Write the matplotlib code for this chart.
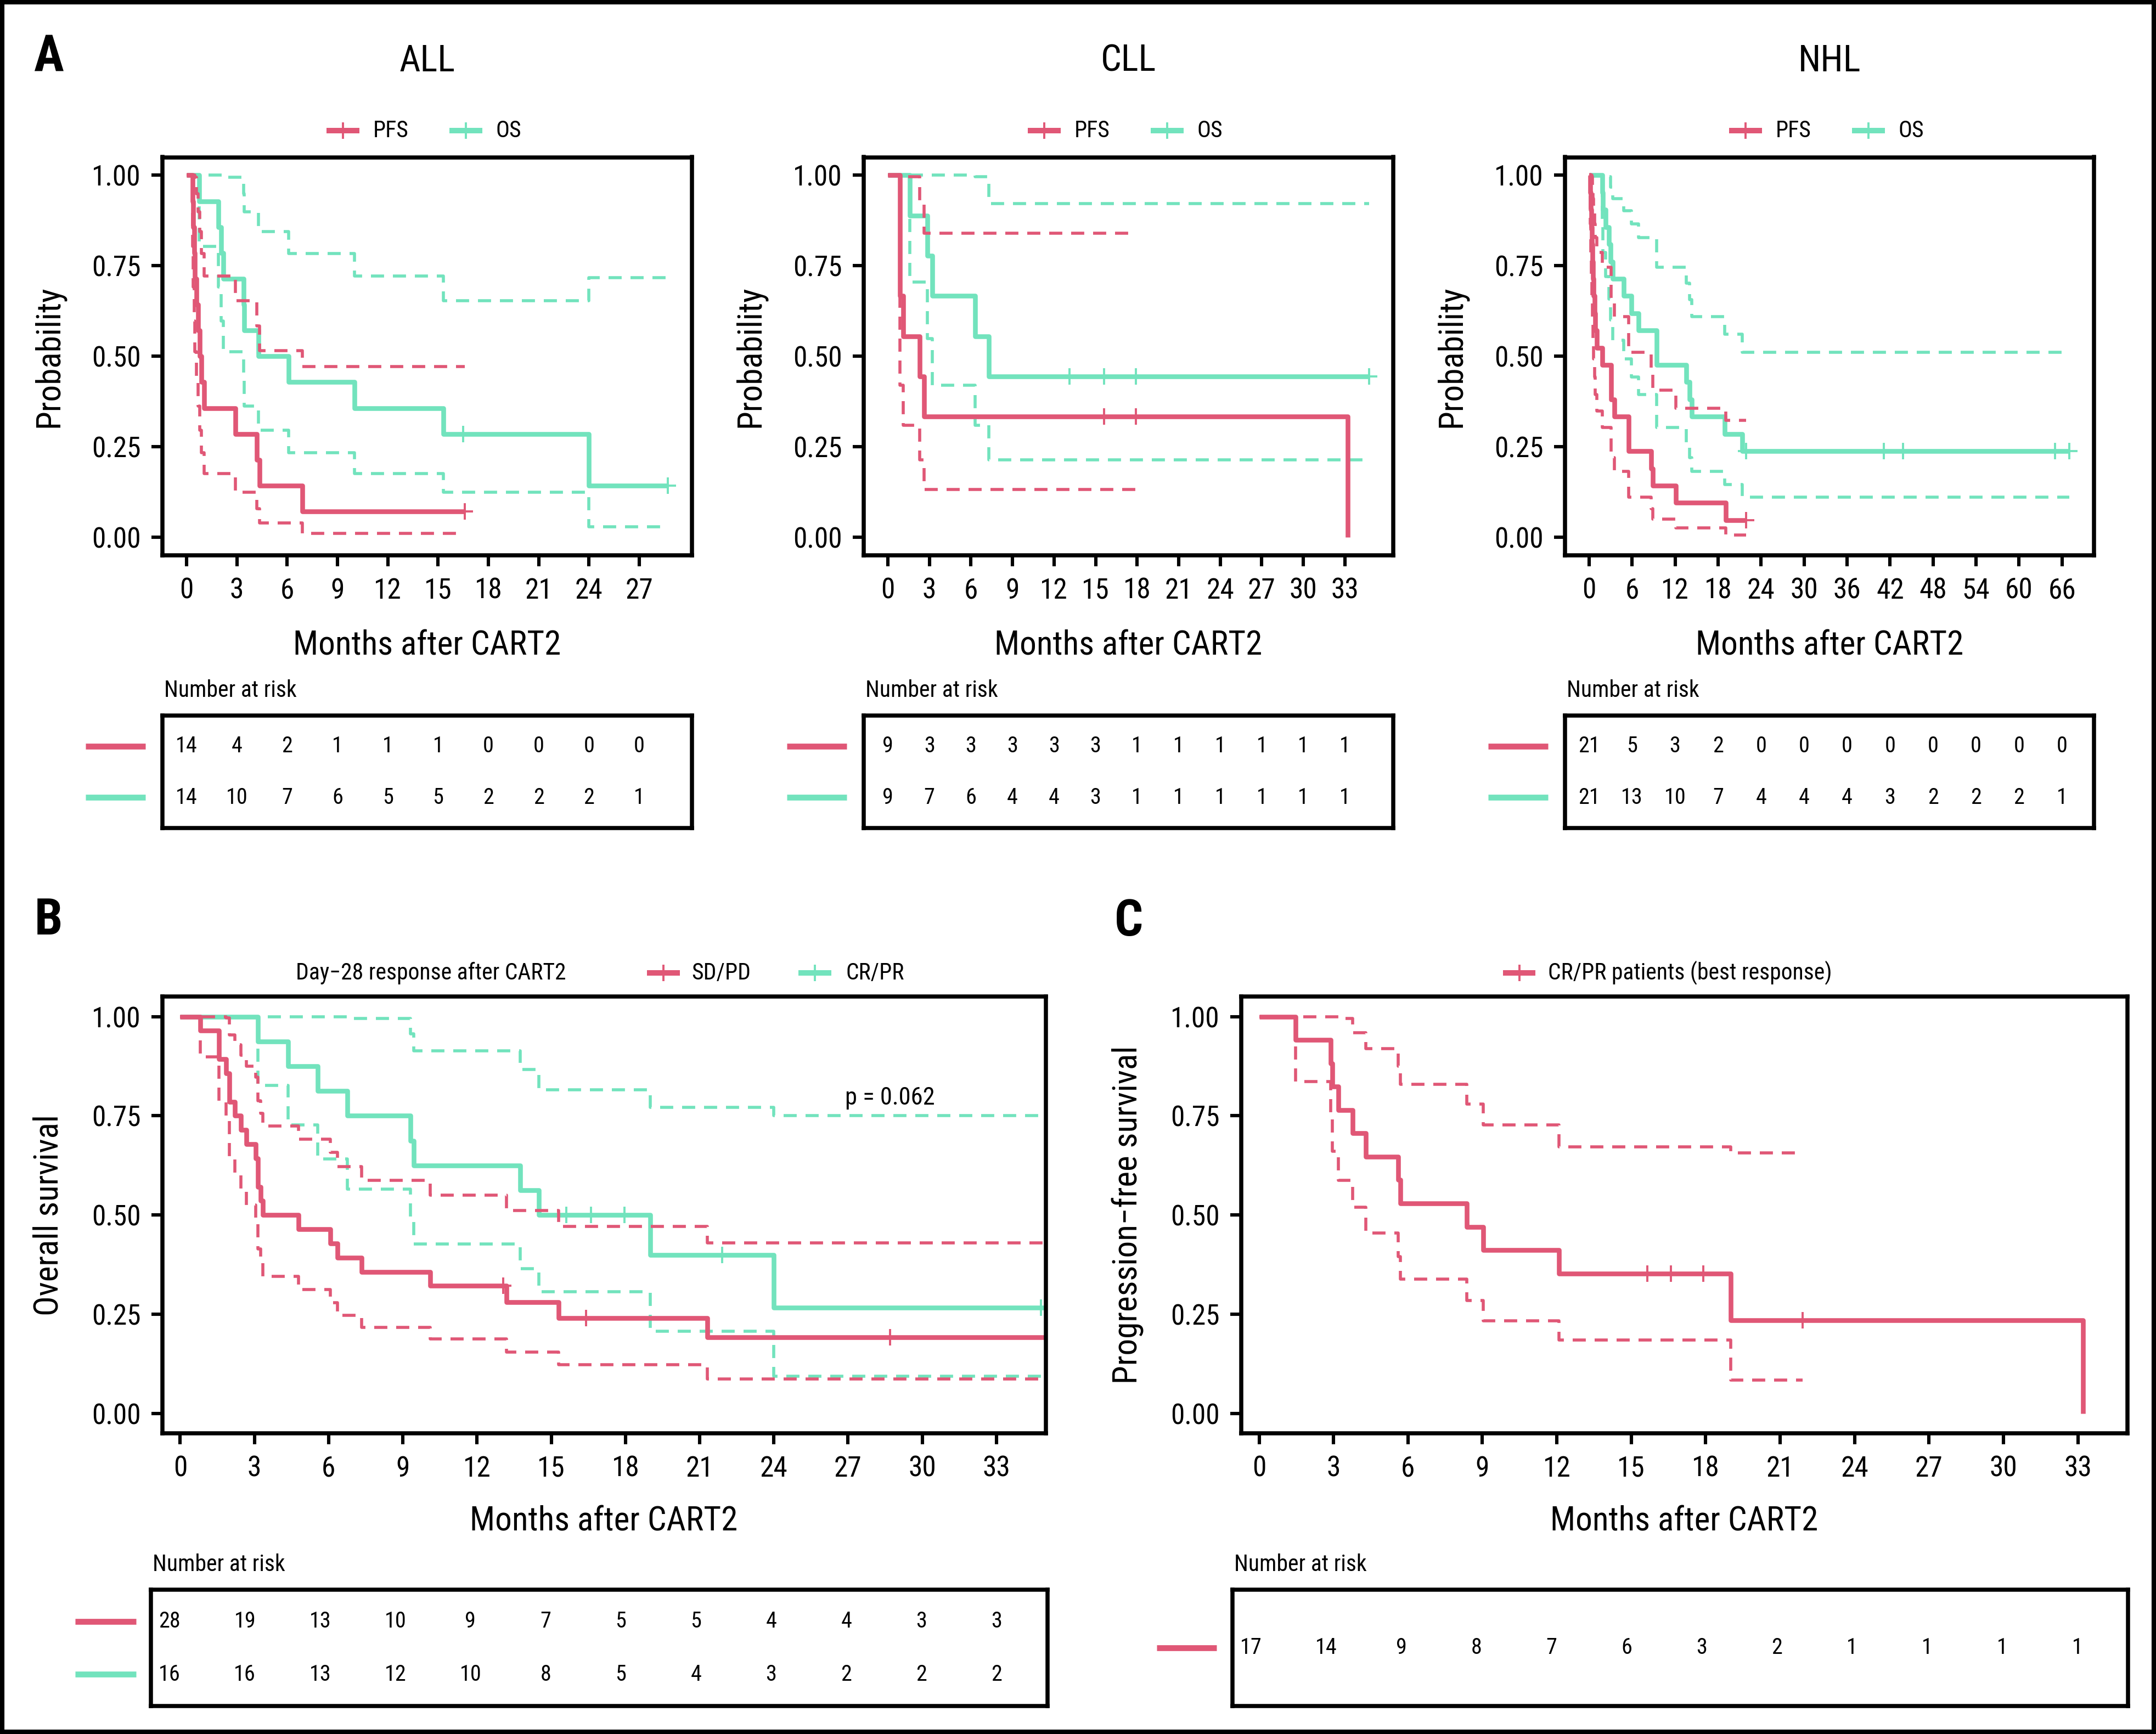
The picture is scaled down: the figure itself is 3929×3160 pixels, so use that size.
import numpy as np
import matplotlib

matplotlib.use("Agg")
import matplotlib.pyplot as plt
from matplotlib import font_manager
from matplotlib.lines import Line2D
from matplotlib.patches import Rectangle

W, H, DPI = 3929, 3160, 200
RED = "#E05776"
GREEN = "#72E3BD"

# ---- survival data (months after CART2) ----
all_pfs_events = [0.35, 0.4, 0.45, 0.5, 0.6, 0.7, 0.8, 0.9, 1.05, 2.9, 4.2, 4.35, 6.9]
all_pfs_censored = [16.6]
all_os_events = [0.77, 1.9, 2.05, 2.2, 3.4, 3.45, 4.3, 6.1, 10.0, 15.3, 24.0]
all_os_censored = [16.5, 16.5, 28.7]

cll_pfs_events = [0.88, 0.88, 0.88, 1.1, 2.3, 2.6, 33.2]
cll_pfs_censored = [15.6, 17.9]
cll_os_events = [1.6, 2.85, 3.2, 6.3, 7.3]
cll_os_censored = [13.1, 15.6, 17.9, 34.75]

nhl_pfs_events = [0.2, 0.25, 0.3, 0.4, 0.5, 0.55, 0.65, 0.75, 0.85, 1.1,
                  1.86, 3.1, 3.1, 3.56, 5.5, 5.5, 8.7, 8.9, 12.1, 19.1]
nhl_pfs_censored = [21.9]
nhl_os_events = [1.86, 1.95, 2.3, 2.8, 3.0, 3.3, 4.8, 5.9, 6.9, 9.4, 9.4,
                 13.6, 14.0, 14.3, 18.9, 21.4]
nhl_os_censored = [21.9, 41.1, 43.8, 65.0, 67.0]

sdpd_events = [0.82, 1.56, 1.56, 1.86, 1.98, 1.98, 2.2, 2.45, 2.68, 3.05, 3.15,
               3.15, 3.25, 3.35, 4.78, 6.06, 6.36, 7.34, 10.1, 13.2, 15.3, 21.3]
sdpd_censored = [13.05, 16.4, 28.7, 36.0, 37.5, 40.0]
crpr_events = [3.15, 4.36, 5.55, 6.76, 9.3, 9.45, 13.75, 14.5, 19.0, 24.0]
crpr_censored = [15.6, 16.6, 17.95, 21.9, 34.8, 36.5]

best_events = [1.47, 2.89, 2.95, 3.2, 3.77, 4.29, 5.6, 5.7, 8.36, 9.04, 12.09, 19.0, 33.2]
best_censored = [15.64, 16.6, 17.9, 21.9]

# ---- number at risk tables ----
all_breaks = list(range(0, 28, 3))
all_pfs_risk = [14, 4, 2, 1, 1, 1, 0, 0, 0, 0]
all_os_risk = [14, 10, 7, 6, 5, 5, 2, 2, 2, 1]
cll_breaks = list(range(0, 34, 3))
cll_pfs_risk = [9, 3, 3, 3, 3, 3, 1, 1, 1, 1, 1, 1]
cll_os_risk = [9, 7, 6, 4, 4, 3, 1, 1, 1, 1, 1, 1]
nhl_breaks = list(range(0, 67, 6))
nhl_pfs_risk = [21, 5, 3, 2, 0, 0, 0, 0, 0, 0, 0, 0]
nhl_os_risk = [21, 13, 10, 7, 4, 4, 4, 3, 2, 2, 2, 1]
bc_breaks = list(range(0, 34, 3))
sdpd_risk = [28, 19, 13, 10, 9, 7, 5, 5, 4, 4, 3, 3]
crpr_risk = [16, 16, 13, 12, 10, 8, 5, 4, 3, 2, 2, 2]
best_risk = [17, 14, 9, 8, 7, 6, 3, 2, 1, 1, 1, 1]

_avail = {f.name for f in font_manager.fontManager.ttflist}
FONT = next((f for f in ["Liberation Sans Narrow", "Roboto Condensed", "Open Sans Condensed",
                         "DejaVu Sans Condensed", "Liberation Sans"] if f in _avail), "DejaVu Sans")
plt.rcParams["font.family"] = [FONT, "DejaVu Sans"]

LW_SOLID, LW_CI, LW_BOX = 3.1, 2.0, 2.7
DASH = (0, (4.3, 2.9))


def km(events, censored):
    """Kaplan-Meier with log-transformed 95% CI (survival::survfit default)."""
    ev = np.asarray(events, float)
    ce = np.asarray(censored, float)
    n = len(ev) + len(ce)
    s, v = 1.0, 0.0
    t_out, s_out, lo_out, hi_out, cens = [0.0], [1.0], [1.0], [1.0], []
    for t in np.unique(np.concatenate([ev, ce])):
        d = int(np.sum(ev == t))
        c = int(np.sum(ce == t))
        if d:
            v = v + d / (n * (n - d)) if n > d else np.inf
            s *= 1 - d / n
        if s > 0:
            se = np.sqrt(v)
            lo, hi = s * np.exp(-1.96 * se), min(1.0, s * np.exp(1.96 * se))
        else:
            lo = hi = np.nan
        t_out.append(t); s_out.append(s); lo_out.append(lo); hi_out.append(hi)
        if c:
            cens.append((t, s))
        n -= d + c
    return np.array(t_out), np.array(s_out), np.array(lo_out), np.array(hi_out), cens


def draw_km(ax, events, censored, color):
    t, s, lo, hi, cens = km(events, censored)
    ok = ~np.isnan(lo)
    for band in (lo, hi):
        ax.step(t[ok], band[ok], where="post", color=color, lw=LW_CI, ls=DASH)
    ax.step(t, s, where="post", color=color, lw=LW_SOLID, solid_capstyle="butt")
    if cens:
        ct, cs = zip(*cens)
        ax.plot(ct, cs, ls="none", marker="+", ms=11, mew=1.4, color=color)


fig = plt.figure(figsize=(W / DPI, H / DPI), dpi=DPI)
fig.patch.set_facecolor("white")


def px_axes(x0, y0, x1, y1):
    return fig.add_axes([x0 / W, 1 - y1 / H, (x1 - x0) / W, (y1 - y0) / H])


def ftext(x, y, s, **kw):
    fig.text(x / W, 1 - y / H, s, **kw)


def style_box(ax):
    for sp in ax.spines.values():
        sp.set_linewidth(LW_BOX)
        sp.set_color("black")


def style_plot(ax, xlim, xticks):
    style_box(ax)
    ax.set_xlim(*xlim)
    ax.set_ylim(-0.05, 1.05)
    ax.set_xticks(xticks)
    ax.set_yticks([0, 0.25, 0.5, 0.75, 1.0])
    ax.set_yticklabels(["0.00", "0.25", "0.50", "0.75", "1.00"])
    ax.tick_params(length=7.2, width=2.2, labelsize=18.5, pad=7, color="black")


def legend_key(x0, x1, y, color):
    yy = 1 - y / H
    fig.add_artist(Line2D([x0 / W, x1 / W], [yy, yy], transform=fig.transFigure,
                          color=color, lw=3.6, solid_capstyle="butt"))
    fig.add_artist(Line2D([(x0 + x1) / 2 / W], [yy], transform=fig.transFigure,
                          ls="none", marker="+", ms=11, mew=1.4, color=color))


def risk_table(box, xlim, breaks, rows, line_x):
    x0, y0, x1, y1 = box
    ax = px_axes(x0, y0, x1, y1)
    style_box(ax)
    ax.set_xlim(*xlim)
    nrow = len(rows)
    ax.set_ylim(0.4, nrow + 0.6)
    ax.set_xticks([]); ax.set_yticks([])
    for i, (vals, color) in enumerate(rows):
        yrow = nrow - i
        for b, v in zip(breaks, vals):
            ax.text(b, yrow, str(v), ha="center", va="center", fontsize=14.5)
        ypix = y1 - (yrow - 0.4) / (nrow + 0.2) * (y1 - y0)
        yy = 1 - ypix / H
        fig.add_artist(Line2D([line_x[0] / W, line_x[1] / W], [yy, yy], transform=fig.transFigure,
                              color=color, lw=3.85, solid_capstyle="butt"))
    ftext(x0 + 3, y0 - 34, "Number at risk", ha="left", va="baseline", fontsize=15)


# ---- panel A ----
A_TOP, A_BOT = 286.5, 1012.2
panels_a = [
    ("ALL", 296, 1261, 28.7, all_breaks, all_pfs_events, all_pfs_censored, all_os_events,
     all_os_censored, all_pfs_risk, all_os_risk),
    ("CLL", 1574, 2539, 34.75, cll_breaks, cll_pfs_events, cll_pfs_censored, cll_os_events,
     cll_os_censored, cll_pfs_risk, cll_os_risk),
    ("NHL", 2852, 3816, 67.1, nhl_breaks, nhl_pfs_events, nhl_pfs_censored, nhl_os_events,
     nhl_os_censored, nhl_pfs_risk, nhl_os_risk),
]
for name, x0, x1, tmax, brk, pe, pc, oe, oc, prisk, orisk in panels_a:
    ax = px_axes(x0, A_TOP, x1, A_BOT)
    xlim = (-0.05 * tmax, 1.05 * tmax)
    draw_km(ax, oe, oc, GREEN)
    draw_km(ax, pe, pc, RED)
    style_plot(ax, xlim, brk)
    xc = (x0 + x1) / 2
    ftext(xc, 130, name, ha="center", va="baseline", fontsize=24)
    ftext(xc, 1193, "Months after CART2", ha="center", va="baseline", fontsize=22)
    ftext(x0 - 207, (A_TOP + A_BOT) / 2, "Probability", ha="center", va="center",
          rotation=90, fontsize=22)
    legend_key(xc - 183.5, xc - 123.5, 238, RED)
    ftext(xc - 98.5, 238, "PFS", ha="left", va="center", fontsize=15)
    legend_key(xc + 40.5, xc + 100.5, 238, GREEN)
    ftext(xc + 125.5, 238, "OS", ha="left", va="center", fontsize=15)
    risk_table((x0, 1304, x1, 1509), xlim, brk, [(prisk, RED), (orisk, GREEN)],
               (x0 - 140, x0 - 31))

# ---- panel B ----
B_TOP, B_BOT = 1816.4, 2612.2
axb = px_axes(296, B_TOP, 1906, B_BOT)
draw_km(axb, crpr_events, crpr_censored, GREEN)
draw_km(axb, sdpd_events, sdpd_censored, RED)
style_plot(axb, (-0.72, 35.0), bc_breaks)
axb.text(28.7, 0.795, "p = 0.062", ha="center", va="center", fontsize=16)
ftext(1100, 2790, "Months after CART2", ha="center", va="baseline", fontsize=22)
ftext(89, (B_TOP + B_BOT) / 2, "Overall survival", ha="center", va="center",
      rotation=90, fontsize=22)
ftext(539, 1773, "Day\u221228 response after CART2", ha="left", va="center", fontsize=15)
legend_key(1179, 1239, 1773, RED)
ftext(1260, 1773, "SD/PD", ha="left", va="center", fontsize=15)
legend_key(1455, 1515, 1773, GREEN)
ftext(1542, 1773, "CR/PR", ha="left", va="center", fontsize=15)
risk_table((275, 2897, 1909, 3109), (-0.75, 35.03), bc_breaks,
           [(sdpd_risk, RED), (crpr_risk, GREEN)], (137, 248))

# ---- panel C ----
axc = px_axes(2262, B_TOP, 3877, B_BOT)
draw_km(axc, best_events, best_censored, RED)
style_plot(axc, (-0.72, 35.0), bc_breaks)
ftext(3069, 2790, "Months after CART2", ha="center", va="baseline", fontsize=22)
ftext(2055, (B_TOP + B_BOT) / 2, "Progression\u2212free survival", ha="center", va="center",
      rotation=90, fontsize=22)
legend_key(2739, 2798, 1773, RED)
ftext(2821, 1773, "CR/PR patients (best response)", ha="left", va="center", fontsize=15)
risk_table((2246, 2897, 3878, 3109), (-0.75, 35.03), bc_breaks, [(best_risk, RED)],
           (2108, 2217))

# panel letters and outer frame
for letter, x, y in [("A", 88, 130), ("B", 88, 1703), ("C", 2057, 1705)]:
    ftext(x, y, letter, ha="center", va="baseline", fontsize=33, fontweight="bold")
fig.add_artist(Rectangle((0, 0), 1, 1, transform=fig.transFigure, fill=False,
                         lw=5.8, ec="black"))

fig.savefig("out.png", dpi=DPI, facecolor="white")
